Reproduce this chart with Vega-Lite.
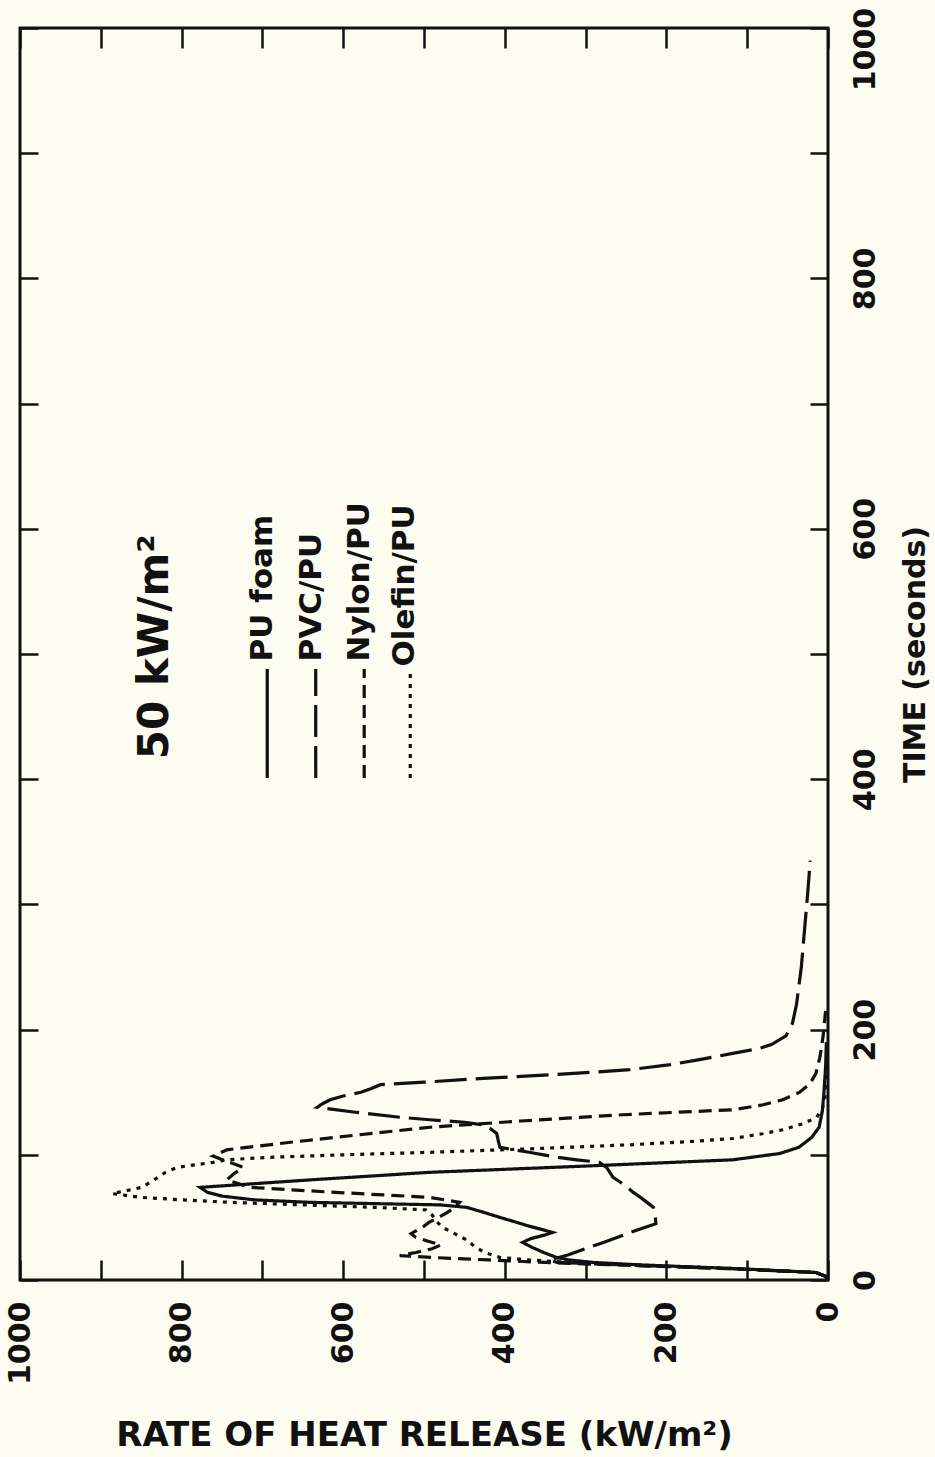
{
  "$schema": "https://vega.github.io/schema/vega-lite/v6.json",
  "width": 808,
  "height": 1252,
  "autosize": {"type": "none"},
  "padding": {"left": 20, "top": 28, "right": 107, "bottom": 177},
  "background": "#fcfcf1",
  "config": {
    "view": {"stroke": "#111111", "strokeWidth": 3},
    "font": "DejaVu Sans"
  },
  "datasets": {
    "curves": [
      {"s": "PU foam", "t": 0, "r": 0}, {"s": "PU foam", "t": 3, "r": 3}, {"s": "PU foam", "t": 6, "r": 15},
      {"s": "PU foam", "t": 9, "r": 110}, {"s": "PU foam", "t": 12, "r": 230}, {"s": "PU foam", "t": 14, "r": 290},
      {"s": "PU foam", "t": 16, "r": 320}, {"s": "PU foam", "t": 18, "r": 336}, {"s": "PU foam", "t": 22, "r": 352},
      {"s": "PU foam", "t": 26, "r": 366}, {"s": "PU foam", "t": 30, "r": 378}, {"s": "PU foam", "t": 33, "r": 368},
      {"s": "PU foam", "t": 36, "r": 350}, {"s": "PU foam", "t": 38, "r": 341}, {"s": "PU foam", "t": 40, "r": 352},
      {"s": "PU foam", "t": 43, "r": 370}, {"s": "PU foam", "t": 46, "r": 385}, {"s": "PU foam", "t": 50, "r": 406},
      {"s": "PU foam", "t": 54, "r": 426}, {"s": "PU foam", "t": 58, "r": 447}, {"s": "PU foam", "t": 60, "r": 480},
      {"s": "PU foam", "t": 61, "r": 560}, {"s": "PU foam", "t": 62, "r": 640}, {"s": "PU foam", "t": 64, "r": 710},
      {"s": "PU foam", "t": 67, "r": 750}, {"s": "PU foam", "t": 70, "r": 768}, {"s": "PU foam", "t": 74, "r": 777},
      {"s": "PU foam", "t": 80, "r": 640}, {"s": "PU foam", "t": 86, "r": 493}, {"s": "PU foam", "t": 91, "r": 300},
      {"s": "PU foam", "t": 96, "r": 118}, {"s": "PU foam", "t": 101, "r": 60}, {"s": "PU foam", "t": 106, "r": 36},
      {"s": "PU foam", "t": 114, "r": 20}, {"s": "PU foam", "t": 122, "r": 11}, {"s": "PU foam", "t": 135, "r": 7},
      {"s": "PU foam", "t": 150, "r": 5}, {"s": "PU foam", "t": 170, "r": 3}, {"s": "PU foam", "t": 190, "r": 2},

      {"s": "PVC/PU", "t": 0, "r": 0}, {"s": "PVC/PU", "t": 3, "r": 3}, {"s": "PVC/PU", "t": 6, "r": 15},
      {"s": "PVC/PU", "t": 9, "r": 120}, {"s": "PVC/PU", "t": 12, "r": 250}, {"s": "PVC/PU", "t": 14, "r": 335},
      {"s": "PVC/PU", "t": 16, "r": 345}, {"s": "PVC/PU", "t": 20, "r": 322}, {"s": "PVC/PU", "t": 25, "r": 300},
      {"s": "PVC/PU", "t": 30, "r": 278}, {"s": "PVC/PU", "t": 35, "r": 257}, {"s": "PVC/PU", "t": 40, "r": 236},
      {"s": "PVC/PU", "t": 45, "r": 213}, {"s": "PVC/PU", "t": 52, "r": 214}, {"s": "PVC/PU", "t": 58, "r": 216},
      {"s": "PVC/PU", "t": 62, "r": 224}, {"s": "PVC/PU", "t": 66, "r": 232}, {"s": "PVC/PU", "t": 70, "r": 241},
      {"s": "PVC/PU", "t": 76, "r": 252}, {"s": "PVC/PU", "t": 82, "r": 266}, {"s": "PVC/PU", "t": 90, "r": 274},
      {"s": "PVC/PU", "t": 94, "r": 283}, {"s": "PVC/PU", "t": 96, "r": 311}, {"s": "PVC/PU", "t": 98, "r": 335},
      {"s": "PVC/PU", "t": 102, "r": 370}, {"s": "PVC/PU", "t": 106, "r": 406}, {"s": "PVC/PU", "t": 111, "r": 408},
      {"s": "PVC/PU", "t": 117, "r": 410}, {"s": "PVC/PU", "t": 121, "r": 418}, {"s": "PVC/PU", "t": 124, "r": 427},
      {"s": "PVC/PU", "t": 126, "r": 450}, {"s": "PVC/PU", "t": 128, "r": 493}, {"s": "PVC/PU", "t": 130, "r": 530},
      {"s": "PVC/PU", "t": 134, "r": 585}, {"s": "PVC/PU", "t": 138, "r": 632}, {"s": "PVC/PU", "t": 141, "r": 625},
      {"s": "PVC/PU", "t": 144, "r": 616}, {"s": "PVC/PU", "t": 147, "r": 600}, {"s": "PVC/PU", "t": 150, "r": 578},
      {"s": "PVC/PU", "t": 153, "r": 565}, {"s": "PVC/PU", "t": 156, "r": 554}, {"s": "PVC/PU", "t": 158, "r": 500},
      {"s": "PVC/PU", "t": 161, "r": 427}, {"s": "PVC/PU", "t": 163, "r": 369}, {"s": "PVC/PU", "t": 166, "r": 290},
      {"s": "PVC/PU", "t": 168, "r": 245}, {"s": "PVC/PU", "t": 172, "r": 195}, {"s": "PVC/PU", "t": 176, "r": 159},
      {"s": "PVC/PU", "t": 181, "r": 118}, {"s": "PVC/PU", "t": 185, "r": 85}, {"s": "PVC/PU", "t": 188, "r": 70},
      {"s": "PVC/PU", "t": 195, "r": 52}, {"s": "PVC/PU", "t": 205, "r": 44}, {"s": "PVC/PU", "t": 220, "r": 39},
      {"s": "PVC/PU", "t": 250, "r": 33}, {"s": "PVC/PU", "t": 280, "r": 29}, {"s": "PVC/PU", "t": 310, "r": 25},
      {"s": "PVC/PU", "t": 335, "r": 22},

      {"s": "Nylon/PU", "t": 0, "r": 0}, {"s": "Nylon/PU", "t": 3, "r": 3}, {"s": "Nylon/PU", "t": 6, "r": 15},
      {"s": "Nylon/PU", "t": 9, "r": 120}, {"s": "Nylon/PU", "t": 12, "r": 260}, {"s": "Nylon/PU", "t": 14, "r": 350},
      {"s": "Nylon/PU", "t": 16, "r": 420}, {"s": "Nylon/PU", "t": 18, "r": 490}, {"s": "Nylon/PU", "t": 19.5, "r": 530},
      {"s": "Nylon/PU", "t": 22, "r": 510}, {"s": "Nylon/PU", "t": 25, "r": 490}, {"s": "Nylon/PU", "t": 28, "r": 479},
      {"s": "Nylon/PU", "t": 31, "r": 495}, {"s": "Nylon/PU", "t": 34, "r": 510}, {"s": "Nylon/PU", "t": 37, "r": 516},
      {"s": "Nylon/PU", "t": 40, "r": 508}, {"s": "Nylon/PU", "t": 43, "r": 500}, {"s": "Nylon/PU", "t": 46, "r": 494},
      {"s": "Nylon/PU", "t": 50, "r": 482}, {"s": "Nylon/PU", "t": 54, "r": 471}, {"s": "Nylon/PU", "t": 58, "r": 462},
      {"s": "Nylon/PU", "t": 62, "r": 456}, {"s": "Nylon/PU", "t": 66, "r": 493}, {"s": "Nylon/PU", "t": 70, "r": 610},
      {"s": "Nylon/PU", "t": 74, "r": 715}, {"s": "Nylon/PU", "t": 77, "r": 730}, {"s": "Nylon/PU", "t": 80, "r": 744},
      {"s": "Nylon/PU", "t": 85, "r": 735}, {"s": "Nylon/PU", "t": 90, "r": 724}, {"s": "Nylon/PU", "t": 95, "r": 745},
      {"s": "Nylon/PU", "t": 99, "r": 761}, {"s": "Nylon/PU", "t": 104, "r": 744}, {"s": "Nylon/PU", "t": 110, "r": 665},
      {"s": "Nylon/PU", "t": 116, "r": 580}, {"s": "Nylon/PU", "t": 122, "r": 493}, {"s": "Nylon/PU", "t": 127, "r": 380},
      {"s": "Nylon/PU", "t": 132, "r": 254}, {"s": "Nylon/PU", "t": 136, "r": 117}, {"s": "Nylon/PU", "t": 140, "r": 80},
      {"s": "Nylon/PU", "t": 144, "r": 56}, {"s": "Nylon/PU", "t": 150, "r": 35}, {"s": "Nylon/PU", "t": 157, "r": 22},
      {"s": "Nylon/PU", "t": 165, "r": 15}, {"s": "Nylon/PU", "t": 178, "r": 10}, {"s": "Nylon/PU", "t": 195, "r": 6},
      {"s": "Nylon/PU", "t": 215, "r": 3},

      {"s": "Olefin/PU", "t": 0, "r": 0}, {"s": "Olefin/PU", "t": 3, "r": 3}, {"s": "Olefin/PU", "t": 6, "r": 15},
      {"s": "Olefin/PU", "t": 9, "r": 110}, {"s": "Olefin/PU", "t": 12, "r": 240}, {"s": "Olefin/PU", "t": 14, "r": 320},
      {"s": "Olefin/PU", "t": 16, "r": 370}, {"s": "Olefin/PU", "t": 18, "r": 406}, {"s": "Olefin/PU", "t": 22, "r": 425},
      {"s": "Olefin/PU", "t": 27, "r": 438}, {"s": "Olefin/PU", "t": 32, "r": 447}, {"s": "Olefin/PU", "t": 37, "r": 462},
      {"s": "Olefin/PU", "t": 42, "r": 477}, {"s": "Olefin/PU", "t": 47, "r": 485}, {"s": "Olefin/PU", "t": 52, "r": 490},
      {"s": "Olefin/PU", "t": 56, "r": 498}, {"s": "Olefin/PU", "t": 58, "r": 560}, {"s": "Olefin/PU", "t": 60, "r": 650},
      {"s": "Olefin/PU", "t": 62, "r": 740}, {"s": "Olefin/PU", "t": 64, "r": 800}, {"s": "Olefin/PU", "t": 66, "r": 850},
      {"s": "Olefin/PU", "t": 69, "r": 886}, {"s": "Olefin/PU", "t": 74, "r": 849}, {"s": "Olefin/PU", "t": 80, "r": 834},
      {"s": "Olefin/PU", "t": 86, "r": 820}, {"s": "Olefin/PU", "t": 90, "r": 805}, {"s": "Olefin/PU", "t": 94, "r": 761},
      {"s": "Olefin/PU", "t": 96, "r": 745}, {"s": "Olefin/PU", "t": 98, "r": 690}, {"s": "Olefin/PU", "t": 100, "r": 600},
      {"s": "Olefin/PU", "t": 102, "r": 493}, {"s": "Olefin/PU", "t": 105, "r": 360}, {"s": "Olefin/PU", "t": 108, "r": 245},
      {"s": "Olefin/PU", "t": 111, "r": 160}, {"s": "Olefin/PU", "t": 113, "r": 118}, {"s": "Olefin/PU", "t": 117, "r": 80},
      {"s": "Olefin/PU", "t": 120, "r": 56}, {"s": "Olefin/PU", "t": 125, "r": 30}, {"s": "Olefin/PU", "t": 130, "r": 14},
      {"s": "Olefin/PU", "t": 137, "r": 7}, {"s": "Olefin/PU", "t": 144, "r": 4}, {"s": "Olefin/PU", "t": 155, "r": 2},
      {"s": "Olefin/PU", "t": 165, "r": 1}
    ],
    "legendLines": [
      {"s": "PU foam", "t": 401, "r": 694}, {"s": "PU foam", "t": 488, "r": 694},
      {"s": "PVC/PU", "t": 401, "r": 634}, {"s": "PVC/PU", "t": 488, "r": 634},
      {"s": "Nylon/PU", "t": 401, "r": 574}, {"s": "Nylon/PU", "t": 488, "r": 574},
      {"s": "Olefin/PU", "t": 401, "r": 517}, {"s": "Olefin/PU", "t": 486, "r": 517}
    ],
    "legendLabels": [
      {"label": "PU foam", "t": 494, "r": 699},
      {"label": "PVC/PU", "t": 494, "r": 639},
      {"label": "Nylon/PU", "t": 494, "r": 579},
      {"label": "Olefin/PU", "t": 490, "r": 523}
    ],
    "heading": [
      {"label": "50 kW/m²", "t": 416, "r": 833}
    ]
  },
  "encoding": {
    "x": {
      "field": "r",
      "type": "quantitative",
      "scale": {"domain": [0, 1000], "reverse": true, "nice": false, "zero": false},
      "axis": {
        "orient": "bottom",
        "values": [0, 100, 200, 300, 400, 500, 600, 700, 800, 900, 1000],
        "format": "d",
        "labelExpr": "datum.value % 200 === 0 ? datum.label : ''",
        "grid": true,
        "gridDash": [20, 1212, 20],
        "gridColor": "#111111",
        "gridWidth": 2.5,
        "gridOpacity": 1,
        "ticks": false,
        "tickSize": 0,
        "domain": false,
        "labelAngle": 270,
        "labelAlign": "right",
        "labelBaseline": "middle",
        "labelPadding": 21,
        "labelFont": "DejaVu Sans",
        "labelFontWeight": "bold",
        "labelFontSize": 30,
        "labelColor": "#111111",
        "labelOverlap": false,
        "labelFlush": false,
        "title": "RATE OF HEAT RELEASE (kW/m²)",
        "titleFont": "DejaVu Sans",
        "titleFontWeight": "bold",
        "titleFontSize": 34,
        "titleColor": "#111111",
        "titlePadding": 34
      }
    },
    "y": {
      "field": "t",
      "type": "quantitative",
      "scale": {"domain": [0, 1000], "nice": false, "zero": false},
      "axis": {
        "orient": "right",
        "values": [0, 100, 200, 300, 400, 500, 600, 700, 800, 900, 1000],
        "format": "d",
        "labelExpr": "datum.value % 200 === 0 ? datum.label : ''",
        "grid": true,
        "gridDash": [18, 772, 18],
        "gridColor": "#111111",
        "gridWidth": 2.5,
        "gridOpacity": 1,
        "ticks": false,
        "tickSize": 0,
        "domain": false,
        "labelAngle": 270,
        "labelAlign": "center",
        "labelBaseline": "top",
        "labelPadding": 22,
        "labelOffset": {"condition": {"test": "datum.value === 1000", "value": 21}, "value": 0},
        "labelFont": "DejaVu Sans",
        "labelFontWeight": "bold",
        "labelFontSize": 30,
        "labelColor": "#111111",
        "labelOverlap": false,
        "labelFlush": false,
        "title": "TIME (seconds)",
        "titleAngle": 270,
        "titleBaseline": "top",
        "titleFont": "DejaVu Sans",
        "titleFontWeight": "bold",
        "titleFontSize": 30,
        "titleColor": "#111111",
        "titlePadding": 20
      }
    }
  },
  "layer": [
    {
      "data": {"name": "curves"},
      "mark": {"type": "line", "color": "#111111", "strokeWidth": 3.2, "clip": true},
      "encoding": {
        "strokeDash": {
          "field": "s",
          "type": "nominal",
          "scale": {
            "domain": ["PU foam", "PVC/PU", "Nylon/PU", "Olefin/PU"],
            "range": [[1, 0], [32, 9], [13, 7], [4, 6]]
          },
          "legend": null
        },
        "order": {"field": "t", "type": "quantitative"}
      }
    },
    {
      "data": {"name": "legendLines"},
      "mark": {"type": "line", "color": "#111111", "strokeWidth": 3.2},
      "encoding": {
        "strokeDash": {"field": "s", "type": "nominal", "legend": null},
        "order": {"field": "t", "type": "quantitative"}
      }
    },
    {
      "data": {"name": "legendLabels"},
      "mark": {
        "type": "text",
        "angle": 270,
        "align": "left",
        "baseline": "middle",
        "font": "DejaVu Sans",
        "fontWeight": "bold",
        "fontSize": 31,
        "color": "#111111"
      },
      "encoding": {"text": {"field": "label", "type": "nominal"}}
    },
    {
      "data": {"name": "heading"},
      "mark": {
        "type": "text",
        "angle": 270,
        "align": "left",
        "baseline": "middle",
        "font": "DejaVu Sans",
        "fontWeight": "bold",
        "fontSize": 42,
        "color": "#111111"
      },
      "encoding": {"text": {"field": "label", "type": "nominal"}}
    }
  ]
}
